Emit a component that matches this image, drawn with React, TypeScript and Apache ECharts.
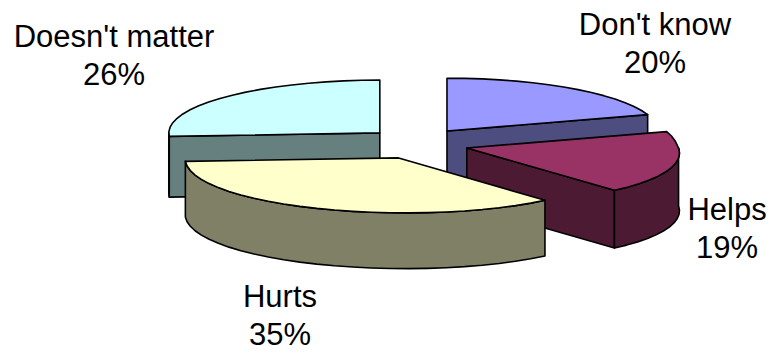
import React, { useEffect, useRef } from "react";
import * as echarts from "echarts";

const categories = ["Don't know", "Helps", "Hurts", "Doesn't matter"];
const shares = [20, 19, 35, 26];
const topColors = ["#9999ff", "#993366", "#ffffcc", "#ccffff"];
const wallColors = ["#4d4d80", "#4d1a33", "#808066", "#668080"];
const drawOrder = [3, 0, 1, 2];

const CX = 417, CY = 143.6, RX = 211, RY = 55, EX = 51, EY = 15.6;
const SKEW_X0 = 240, SKEW = 0.00083;
const LABELS = [
  { x: 655, y: 43 },
  { x: 727, y: 228 },
  { x: 280, y: 315 },
  { x: 114, y: 55 },
];

const rad = (d: number) => (d * Math.PI) / 180;
const total = shares.reduce((a, b) => a + b, 0);
const starts: number[] = [];
shares.reduce((acc, v, i) => {
  starts[i] = acc;
  return acc + (v / total) * 360;
}, 0);

function renderSlice(_: any, api: any) {
  const i = api.value(0) as number;
  const value = api.value(1) as number;
  const a0 = starts[i];
  const a1 = a0 + (value / total) * 360;
  const mid = (a0 + a1) / 2;
  const cx = CX + EX * Math.sin(rad(mid));
  const cy = CY - EY * Math.cos(rad(mid));
  const depth = 60.5 - (cy - 134) * 0.2;
  const warp = (x: number, y: number, dy = 0) => [x + (x - SKEW_X0) * SKEW * Math.max(0, y - CY), y + dy];
  const pt = (a: number, dy = 0) => {
    const c = Math.cos(rad(a));
    const ry = c > 0 ? RY * 0.96 : RY;
    return warp(cx + RX * Math.sin(rad(a)), cy - ry * c, dy);
  };
  const arc = (from: number, to: number, dy = 0) => {
    const pts: number[][] = [];
    const n = Math.max(1, Math.ceil((to - from) / 5));
    for (let k = 0; k <= n; k++) pts.push(pt(from + ((to - from) * k) / n, dy));
    return pts;
  };
  const line = { stroke: "#000", lineWidth: 1.6, lineJoin: "round" };
  const children: any[] = [];
  const wallStyle = { fill: wallColors[i], ...line };
  const apex = warp(cx, cy);
  const wall = (a: number) => ({
    type: "polygon",
    shape: { points: [apex, pt(a), pt(a, depth), warp(cx, cy, depth)] },
    style: wallStyle,
  });
  if (Math.sin(rad(a0)) < 0) children.push(wall(a0));
  if (Math.sin(rad(a1)) > 0) children.push(wall(a1));
  const rimFrom = Math.max(a0, 90);
  const rimTo = Math.min(a1, 270);
  if (rimTo > rimFrom) {
    const top = arc(rimFrom, rimTo);
    const bottom = arc(rimFrom, rimTo, depth).reverse();
    children.push({ type: "polygon", shape: { points: [...top, ...bottom] }, style: wallStyle });
  }
  children.push({
    type: "polygon",
    shape: { points: [apex, ...arc(a0, a1)] },
    style: { fill: topColors[i], ...line },
  });
  return { type: "group", children };
}

export default function App() {
  const ref = useRef<HTMLDivElement>(null);
  useEffect(() => {
    const chart = echarts.init(ref.current!, undefined, { renderer: "svg" });
    chart.setOption({
      animation: false,
      backgroundColor: "#fff",
      series: [
        {
          type: "custom",
          coordinateSystem: "none",
          renderItem: renderSlice,
          silent: true,
          data: drawOrder.map((i) => [i, shares[i]]),
        },
      ],
      graphic: categories.map((c, i) => ({
        type: "text",
        x: LABELS[i].x,
        y: LABELS[i].y,
        style: {
          text: `${c}\n${shares[i]}%`,
          fontFamily: "Liberation Sans",
          fontSize: 31,
          lineHeight: 38,
          fill: "#000",
          textAlign: "center",
          textVerticalAlign: "middle",
        },
      })),
    });
    return () => chart.dispose();
  }, []);
  return <div ref={ref} style={{ position: "absolute", left: 0, top: 0, width: 771, height: 358 }} />;
}
